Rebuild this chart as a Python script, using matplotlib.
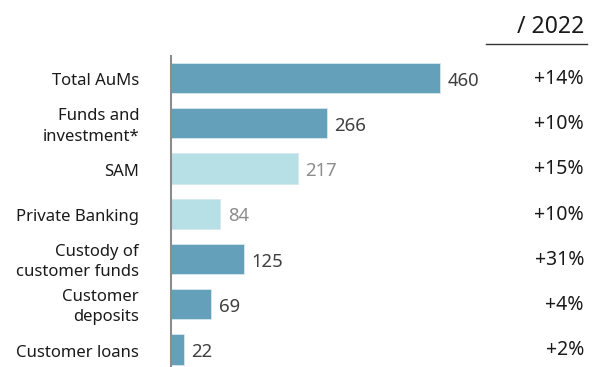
import matplotlib
matplotlib.use("Agg")
import matplotlib.pyplot as plt

plt.rcParams['font.family'] = ['Noto Sans', 'DejaVu Sans']

categories = ["Total AuMs", "Funds and\ninvestment*", "SAM", "Private Banking",
              "Custody of\ncustomer funds", "Customer\ndeposits", "Customer loans"]
values = [460, 266, 217, 84, 125, 69, 22]
changes = ["+14%", "+10%", "+15%", "+10%", "+31%", "+4%", "+2%"]
light = [False, False, True, True, False, False, False]

dark_col = "#65a0ba"
light_col = "#b7dfe6"

fig = plt.figure(figsize=(5.93, 3.67), dpi=100)
W, H = 593, 367
ax = fig.add_axes([171 / W, 0, 1 - 171 / W, 1 - 56 / H])
ax.set_xlim(0, 460 * (W - 171) / 269)
ax.set_ylim(6.39, -0.49)

ypos = list(range(len(values)))
cols = [light_col if l else dark_col for l in light]
ax.barh(ypos, values, height=0.67, color=cols, edgecolor="#d6e9ef", linewidth=0.6)

for y, v, l in zip(ypos, values, light):
    ax.text(v + 13, y + 0.06, str(v), va="center", ha="left", fontsize=13.3,
            color="#8c8c8c" if l else "#404040")

for y, c in zip(ypos, categories):
    ax.text(-32 / (W - 171), y + 0.07, c, transform=ax.get_yaxis_transform(), ha="right",
            va="center", fontsize=12, color="#1a1a1a", linespacing=1.35)

for y, c in zip(ypos, changes):
    ax.text((584 - 171) / (W - 171), y + 0.02, c, transform=ax.get_yaxis_transform(),
            ha="right", va="center", fontsize=14, color="#1a1a1a")

fig.text(584 / W, 1 - 27 / H, "/ 2022", ha="right", va="center", fontsize=16.5,
         color="#1a1a1a")
fig.add_artist(plt.Line2D([486 / W, 587 / W], [1 - 44 / H, 1 - 44 / H],
                          color="#333333", linewidth=1))

for s in ["top", "right", "bottom"]:
    ax.spines[s].set_visible(False)
ax.spines["left"].set_color("#8c8c8c")
ax.spines["left"].set_linewidth(1.5)
ax.set_xticks([])
ax.set_yticks([])

fig.savefig("out.png", dpi=100)
